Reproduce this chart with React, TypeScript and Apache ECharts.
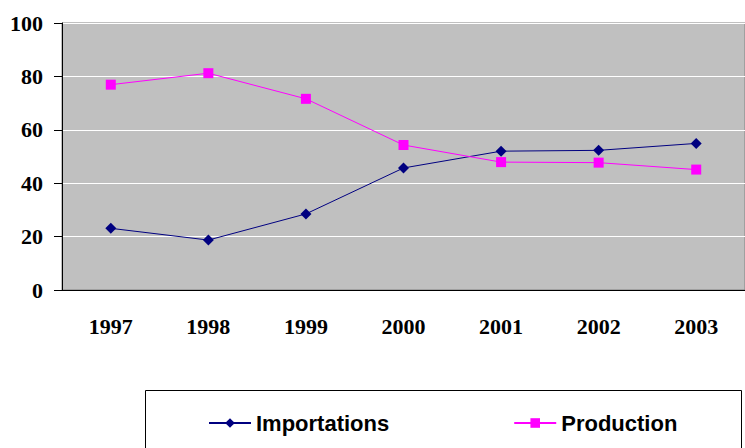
import React, { useEffect, useRef } from "react";
import * as echarts from "echarts";

const years = ["1997", "1998", "1999", "2000", "2001", "2002", "2003"];
const importations = [23.1, 18.7, 28.5, 45.7, 52.0, 52.3, 54.9];
const production = [76.9, 81.2, 71.6, 54.3, 47.9, 47.7, 45.1];
const yTicks = { min: 0, max: 100, interval: 20 };

export default function App() {
  const ref = useRef<HTMLDivElement>(null);
  useEffect(() => {
    if (!ref.current) return;
    const chart = echarts.init(ref.current, null, { renderer: "svg" });
    const axisFont = {
      fontFamily: "Liberation Serif",
      fontWeight: "bold" as const,
      fontSize: 22,
      color: "#000",
    };
    chart.setOption({
      animation: false,
      backgroundColor: "#fff",
      grid: {
        left: 62,
        top: 23,
        width: 686,
        height: 267,
        show: true,
        backgroundColor: "#C0C0C0",
        borderColor: "#808080",
        borderWidth: 1,
      },
      graphic: [
        {
          type: "rect",
          shape: { x: 145.5, y: 390.5, width: 596, height: 80 },
          style: { fill: "#fff", stroke: "#000", lineWidth: 1 },
          z: -1,
        },
      ],
      legend: {
        left: 208,
        top: 412,
        padding: 0,
        itemWidth: 42,
        itemHeight: 12,
        itemGap: 124,
        textStyle: {
          fontFamily: "Liberation Sans",
          fontWeight: "bold",
          fontSize: 22,
          color: "#000",
        },
        data: ["Importations", "Production"],
      },
      xAxis: {
        type: "category",
        data: years,
        boundaryGap: true,
        axisLine: { lineStyle: { color: "#000", width: 1 } },
        axisTick: { length: 8, lineStyle: { color: "#000" } },
        axisLabel: { ...axisFont, margin: 25 },
        splitLine: { show: false },
      },
      yAxis: {
        type: "value",
        min: yTicks.min,
        max: yTicks.max,
        interval: yTicks.interval,
        axisLine: { show: true, lineStyle: { color: "#000", width: 1 } },
        axisTick: { show: true, length: 8, lineStyle: { color: "#000" } },
        axisLabel: { ...axisFont, margin: 19 },
        splitLine: { lineStyle: { color: "#fff", width: 1 } },
      },
      series: [
        {
          name: "Importations",
          type: "line",
          data: importations,
          symbol: "diamond",
          symbolSize: 11,
          lineStyle: { color: "#000080", width: 1 },
          itemStyle: { color: "#000080" },
        },
        {
          name: "Production",
          type: "line",
          data: production,
          symbol: "rect",
          symbolSize: 10,
          lineStyle: { color: "#FF00FF", width: 1 },
          itemStyle: { color: "#FF00FF" },
        },
      ],
    });
    return () => chart.dispose();
  }, []);
  return (
    <div
      ref={ref}
      style={{ position: "absolute", left: 0, top: 0, width: 745, height: 448 }}
    />
  );
}
